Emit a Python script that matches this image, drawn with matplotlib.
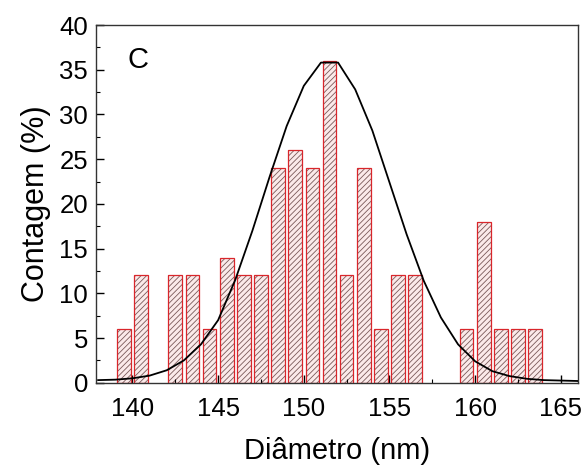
import matplotlib
matplotlib.use('Agg')
import matplotlib.pyplot as plt
import numpy as np

plt.rcParams['font.family'] = ['Liberation Sans', 'DejaVu Sans']
plt.rcParams['hatch.linewidth'] = 0.6

# histogram bins (centres, nm) and counts (%)
diameter = [139.5, 140.5, 141.5, 142.5, 143.5, 144.5, 145.5, 146.5, 147.5,
            148.5, 149.5, 150.5, 151.5, 152.5, 153.5, 154.5, 155.5, 156.5,
            157.5, 158.5, 159.5, 160.5, 161.5, 162.5, 163.5]
count = [6, 12, 0, 12, 12, 6, 14, 12, 12,
         24, 26, 24, 36, 12, 24, 6, 12, 12,
         0, 0, 6, 18, 6, 6, 6]

fit_x = [138, 139, 140, 141, 142, 143, 144, 145, 146, 147, 148, 149, 150, 151,
         152, 153, 154, 155, 156, 157, 158, 159, 160, 161, 162, 163, 164, 165, 166]
fit_y = [0.3, 0.35, 0.5, 0.8, 1.4, 2.5, 4.3, 7.0, 11.5, 17.0, 23.0, 28.7, 33.2, 35.8,
         35.8, 32.8, 28.2, 22.4, 16.6, 11.4, 7.3, 4.3, 2.4, 1.3, 0.75, 0.45, 0.3, 0.25, 0.2]

fig = plt.figure(figsize=(5.88, 4.72), dpi=100)
ax = fig.add_axes([0.164, 0.189, 0.819, 0.758])

kept = [(x, c) for x, c in zip(diameter, count) if c > 0]
bx = [k[0] for k in kept]
bc = [k[1] for k in kept]

# hatch in grey, outline in red
ax.bar(bx, bc, width=0.8, color='#fbeaea', edgecolor='#7a5a5a', hatch='//////',
       linewidth=0, zorder=1)
ax.bar(bx, bc, width=0.8, fill=False, edgecolor='#d9262b', linewidth=0.9, zorder=2)

ax.plot(fit_x, fit_y, color='black', linewidth=1.3, zorder=3)

ax.set_xlim(137.9, 166)
ax.set_ylim(0, 40)
ax.set_xticks(np.arange(140, 166, 5))
ax.set_xticks(np.arange(140, 166, 2.5), minor=True)
ax.set_yticks(np.arange(0, 41, 5))
ax.set_yticks(np.arange(0, 41, 2.5), minor=True)
ax.tick_params(which='major', direction='in', length=6, width=1, labelsize=18.5)
ax.tick_params(which='minor', direction='in', length=3, width=0.8)
ax.tick_params(axis='x', pad=10)
ax.tick_params(axis='y', pad=6)

for s in ax.spines.values():
    s.set_linewidth(1.0)
    s.set_color('#333333')

ax.set_xlabel('Diâmetro (nm)', fontsize=21, labelpad=12)
ax.set_ylabel('Contagem (%)', fontsize=22, labelpad=6)
ax.text(0.065, 0.94, 'C', transform=ax.transAxes, fontsize=21, va='top', ha='left')

fig.savefig('out.png', dpi=100)
